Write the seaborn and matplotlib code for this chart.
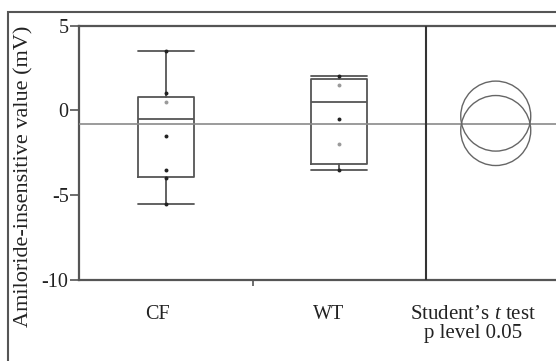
import numpy as np
import pandas as pd
import matplotlib
matplotlib.use("Agg")
import matplotlib.pyplot as plt
from matplotlib.patches import Rectangle
import seaborn as sns

# ---- data ----
groups = ["CF", "WT"]
cf_points = [3.5, 1.0, -1.5, -3.5, -4.0, -5.5]
cf_points_gray = [0.5]
wt_points = [2.0, -0.5, -3.5]
wt_points_gray = [1.5, -2.0]
box_q1 = [-3.93, -3.15]
box_median = [-0.53, 0.47]
box_q3 = [0.80, 1.83]
box_whislo = [-5.5, -3.5]
box_whishi = [3.5, 2.0]
grand_mean = -0.8
circle_centers = [-0.34, -1.19]
y_ticks = [5, 0, -5, -10]
y_label = "Amiloride-insensitive value (mV)"
test_label_1 = "Student\u2019s $\\it{t}$ test"
test_label_2 = "p level 0.05"

sns.set_theme(style="white")
plt.rcParams["font.family"] = ["Liberation Serif", "DejaVu Serif"]
plt.rcParams["mathtext.fontset"] = "custom"
plt.rcParams["mathtext.it"] = "Liberation Serif:italic"
plt.rcParams["mathtext.rm"] = "Liberation Serif"

W, H = 556, 361
fig = plt.figure(figsize=(W / 100, H / 100), dpi=100)
fig.patch.set_facecolor("white")

ax_l, ax_r, ax_t, ax_b = 79, 556, 25.5, 280
ax = fig.add_axes([ax_l / W, 1 - ax_b / H, (ax_r - ax_l) / W, (ax_b - ax_t) / H])
ax.set_facecolor("white")

line_c = "#555555"
txt_c = "#222222"

# boxes
stats = []
for i, g in enumerate(groups):
    stats.append(dict(label=g, q1=box_q1[i], med=box_median[i], q3=box_q3[i],
                      whislo=box_whislo[i], whishi=box_whishi[i], fliers=[]))
ax.bxp(stats, positions=[0, 1], widths=0.324, showfliers=False,
       boxprops=dict(color=line_c, linewidth=1.3),
       medianprops=dict(color=line_c, linewidth=1.3),
       whiskerprops=dict(color=line_c, linewidth=1.3),
       capprops=dict(color=line_c, linewidth=1.3),
       capwidths=0.324, manage_ticks=False)

# points
dark = pd.DataFrame({"x": [0] * len(cf_points) + [1] * len(wt_points),
                     "y": cf_points + wt_points})
light = pd.DataFrame({"x": [0] * len(cf_points_gray) + [1] * len(wt_points_gray),
                      "y": cf_points_gray + wt_points_gray})
sns.scatterplot(data=dark, x="x", y="y", ax=ax, color="#222222", s=8,
                linewidth=0, zorder=5)
sns.scatterplot(data=light, x="x", y="y", ax=ax, color="#9a9a9a", s=8,
                linewidth=0, zorder=5)

# comparison circles
circ = pd.DataFrame({"x": [1.906] * len(circle_centers), "y": circle_centers})
sns.scatterplot(data=circ, x="x", y="y", ax=ax, s=50.4 ** 2, marker="o",
                facecolor="none", edgecolor="#666666", linewidth=1.0, zorder=4)

# grand mean line and divider
ax.axhline(grand_mean, color="#8a8a8a", linewidth=1.2, zorder=3)
ax.axvline(1.5, color="#333333", linewidth=1.5, zorder=3)

ax.set_xlim((ax_l - 166) / 173, (ax_r - 166) / 173)
ax.set_ylim(-10, 5)
ax.set_xlabel("")
ax.set_ylabel("")

ax.set_yticks(y_ticks)
ax.set_yticklabels([str(v) for v in y_ticks], fontsize=14.5, color=txt_c)
ax.set_xticks([0.5])
ax.set_xticklabels([""])
ax.tick_params(axis="y", direction="out", length=6.5, width=1.2, color=line_c,
               pad=1, left=True)
ax.tick_params(axis="x", direction="out", length=4.5, width=1.2, color=line_c,
               bottom=True)

for side in ["left", "top", "bottom"]:
    ax.spines[side].set_visible(True)
    ax.spines[side].set_color(line_c)
    ax.spines[side].set_linewidth(1.6)
ax.spines["right"].set_visible(False)

# y label (placed as in the reference)
fig.text(24 / W, 1 - 176 / H, y_label, rotation=90, ha="center", va="center",
         fontsize=16, color=txt_c)

# category labels
tr = ax.get_xaxis_transform()
y1 = -(319 - ax_b) / (ax_b - ax_t)
y2 = -(338 - ax_b) / (ax_b - ax_t)
ax.text(-0.052, y1, "CF", transform=tr, ha="center", va="baseline",
        fontsize=14.5, color=txt_c)
ax.text(0.942, y1, "WT", transform=tr, ha="center", va="baseline",
        fontsize=14.5, color=txt_c)
ax.text(1.775, y1, test_label_1, transform=tr, ha="center", va="baseline",
        fontsize=15, color=txt_c)
ax.text(1.775, y2, test_label_2, transform=tr, ha="center", va="baseline",
        fontsize=15, color=txt_c)

# outer frame
fig.patches.append(Rectangle((8.3 / W, -0.1), 1.2, (H - 11.7) / H + 0.1,
                             transform=fig.transFigure, fill=False,
                             edgecolor="#555555", linewidth=1.5))

fig.savefig("out.png", dpi=100)
